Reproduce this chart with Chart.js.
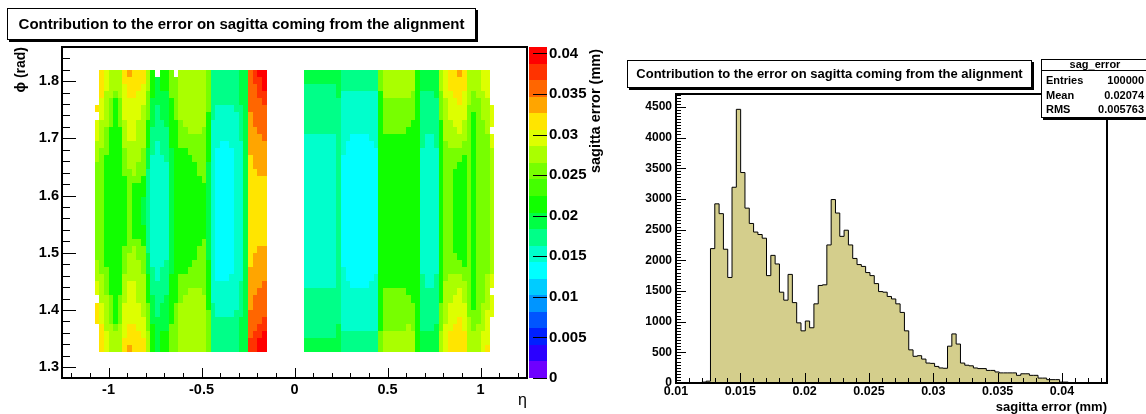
<!DOCTYPE html>
<html><head><meta charset="utf-8">
<script src="https://cdn.jsdelivr.net/npm/chart.js@4.4.1/dist/chart.umd.min.js"></script>
<style>
html,body{margin:0;padding:0;background:#fff;}
body{width:1146px;height:414px;position:relative;overflow:hidden;}
canvas{position:absolute;top:0;}
#heat{left:0;width:620px;height:414px;}
#hist{left:620px;width:526px;height:414px;}
</style></head><body>
<canvas id="heat" width="620" height="414"></canvas>
<canvas id="hist" width="526" height="414"></canvas>
<script>
const FONT = "'Liberation Sans', Arial, Helvetica, sans-serif";

// ---------------- Left pad : 2D map ----------------
const titleText = "Contribution to the error on sagitta coming from the alignment";
const etaAxisTitle = "\u03B7";
const phiAxisTitle = "\u03D5 (rad)";
const zAxisTitle = "sagitta error (mm)";
const etaTickValues = [-1, -0.5, 0, 0.5, 1];
const etaTickLabels = ["-1", "-0.5", "0", "0.5", "1"];
const phiTickValues = [1.3, 1.4, 1.5, 1.6, 1.7, 1.8];
const phiTickLabels = ["1.3", "1.4", "1.5", "1.6", "1.7", "1.8"];
const zTickValues = [0, 0.005, 0.01, 0.015, 0.02, 0.025, 0.03, 0.035, 0.04];
const zTickLabels = ["0", "0.005", "0.01", "0.015", "0.02", "0.025", "0.03", "0.035", "0.04"];
const etaRange = [-1.25, 1.25];
const phiRange = [1.2812, 1.8596];
const zRange = [0, 0.0408];
const zLevels = 20;
const paletteColors = ["#6e00ff","#2a00ff","#0020ff","#0055ff","#0095ff","#00ccff","#00ffff","#00ffcc","#00ff88","#00ff44",
                       "#11ff00","#44ff00","#77ff00","#aaff00","#ddff00","#ffe500","#ffa500","#ff6600","#ff3300","#ff0000"];
const etaBinWidth = 0.025;
const phiBinRange = [1.327, 1.819];
const phiBinCount = 40;
const leftBlockEtaStart = -1.075;
const rightBlockEtaStart = 0.05;
// cell code -> colour level (level k covers [k, k+1) * zRange[1]/zLevels)
const levelOfCode = {"7":6,"8":7,"9":8,"A":9,"B":10,"C":12,"D":13,"E":14,"F":15,"G":16,"H":17,"I":18,"J":19};
// each column: run-length list of cell codes from top row (phi high) to bottom row
const leftBlockColumns = [
 ".*5 F . E*3 D*3 C*14 D*3 E*2 . F*3 .*4",
 "F*4 E*3 D*4 C*18 D*4 E*3 F*4",
 "E*3 D*5 C*4 B*16 C*4 D*5 E*3",
 "D*4 C*4 B*24 C*4 D*4",
 "D*3 C B*32 C D*3",
 "D*4 C*4 B*24 C*4 D*4",
 "F*2 E*5 D*4 C*4 B*10 C*4 D*4 E*5 F*2",
 "G F*3 E*6 D*4 C*12 D*4 E*6 F*3 G",
 "F*4 E*6 D*5 C B*8 C D*5 E*6 F*4",
 "F*3 E*4 D*6 C*3 B*8 C*3 D*6 E*4 F*3",
 "F*2 E*3 D*6 C*4 B*3 A*4 B*3 C*4 D*6 E*3 F*2",
 "D*3 C*4 B*4 A*3 9*12 A*3 B*4 C*4 D*3",
 "B*4 A*4 9*4 8*16 9*4 A*4 B*4",
 ". A*4 9*5 8*20 9*5 A*5",
 "B*3 A*4 9*5 8*16 9*5 A*4 B*3",
 "B*3 A*5 9*5 8*14 9*5 A*5 B*3",
 "C*4 B*7 A*18 B*7 C*4",
 ". C*6 B*26 C*7",
 "D*7 C*4 B*18 C*4 D*7",
 "D*8 C*3 B*18 C*3 D*8",
 "D*9 C*3 B*16 C*3 D*9",
 "D*9 C*4 B*14 C*4 D*9",
 "D*9 C*6 B*10 C*6 D*9",
 "D*8 C*8 B*8 C*8 D*8",
 "C*6 B*7 A*14 B*7 C*6",
 "9*7 8*26 9*7",
 "9*5 8*6 7*19 8*5 9*5",
 "9*5 8*5 7*20 8*5 9*5",
 "9*5 8*5 7*20 8*5 9*5",
 "9*5 8*6 7*18 8*6 9*5",
 "9*6 8*28 9*6",
 "A*5 9*5 8*20 9*5 A*5",
 "A*40",
 "H*6 G*6 F*16 G*6 H*4 I*2",
 "I*2 H*6 G*6 F*12 G*6 H*5 I*3",
 "J I*3 H*5 G*6 F*10 G*6 H*5 I*2 J*2",
 "J*3 I*2 H*5 G*5 F*10 G*5 H*5 I*2 J*3"
];
const rightBlockColumns = [
 "A*2 9*7 8*22 9*7 A*2",
 "A*2 9*7 8*22 9*7 A*2",
 "A*2 9*7 8*22 9*7 A*2",
 "A*2 9*7 8*22 9*7 A*2",
 "A*2 9*7 8*22 9*7 A*2",
 "A*2 9*7 8*22 9*7 A*2",
 "A*2 9*7 8*22 9*7 A*2",
 "A*4 9*32 A*4",
 "9*3 8*9 7*16 8*9 9*3",
 "9*3 8*7 7*20 8*7 9*3",
 "9*3 8*6 7*22 8*6 9*3",
 "9*3 8*6 7*22 8*6 9*3",
 "9*3 8*6 7*22 8*6 9*3",
 "9*3 8*6 7*22 8*6 9*3",
 "9*3 8*7 7*20 8*7 9*3",
 "9*3 8*8 7*18 8*8 9*3",
 "C*3 B*34 C*3",
 "D*4 C*5 B*22 C*6 D*3",
 "D*4 C*5 B*22 C*6 D*3",
 "D*4 C*5 B*22 C*6 D*3",
 "D*4 C*5 B*22 C*6 D*3",
 "D*4 C*5 B*22 C*6 D*3",
 "D*4 C*4 B*24 C*4 D*4",
 "D*3 C*4 B*26 C*4 D*3",
 "B*40",
 "A*3 9*8 8*18 9*8 A*3",
 "A*3 9*6 8*22 9*6 A*3",
 "A*3 9*6 8*22 9*6 A*3",
 "A*4 9*7 8*18 9*7 A*4",
 "D*3 C*4 B*26 C*4 D*3",
 "E*4 D*6 C*20 D*6 E*4",
 "F*3 E*4 D*4 C*18 D*4 E*4 F*3",
 "F*4 E*4 D*3 C*3 B*12 C*3 D*3 E*4 F*4",
 "G F*4 E*4 D*2 C*2 B*14 C*2 D*2 E*4 F*5",
 "F*3 E*4 D*3 C*2 B*16 C*2 D*3 E*4 F*3",
 "D*5 C*30 D*5",
 "D*3 C*3 B*28 C*3 D*3",
 "D*4 C*32 D*4",
 "E*3 D*4 C*26 D*4 E*3",
 "E*4 D*5 C*20 D*5 E*5 F",
 ".*5 E*3 . E*2 D*18 E*2 . E*3 .*5"
];

// ---------------- Right pad : histogram ----------------
const histName = "sag_error";
const statsLabels = ["Entries", "Mean", "RMS"];
const statsValues = ["100000", "0.02074", "0.005763"];
const histRange = [0.01, 0.0435];
const histCounts = [
 0,0,0,0,0,0,15,30,2190,2920,
 2760,2180,1720,3190,4460,3430,2850,2600,2460,2420,
 2360,1750,2080,1940,1480,1350,1770,1310,980,850,
 1010,900,1290,1590,1600,2250,2990,2770,2390,2490,
 2250,2030,1930,1900,1800,1750,1620,1490,1480,1410,
 1370,1290,1150,850,540,435,445,390,325,320,
 270,245,240,600,800,635,325,290,280,245,
 235,235,205,205,180,165,165,165,165,125,
 150,150,125,125,80,80,55,55,55,15,
 15,0,0,0,0,0,0,0,0,0
];
const histXTickValues = [0.01, 0.015, 0.02, 0.025, 0.03, 0.035, 0.04];
const histXTickLabels = ["0.01", "0.015", "0.02", "0.025", "0.03", "0.035", "0.04"];
const histYTickValues = [0, 500, 1000, 1500, 2000, 2500, 3000, 3500, 4000, 4500];
const histYTickLabels = ["0", "500", "1000", "1500", "2000", "2500", "3000", "3500", "4000", "4500"];
const histYMax = 4710;
const histXTitle = "sagitta error (mm)";
const histFill = "#d4ce8c";

// ---------------- build data ----------------
function decodeColumn(str, n) {
  const out = [];
  str.trim().split(/\s+/).forEach(tok => {
    const parts = tok.split('*');
    const cnt = parts[1] ? parseInt(parts[1], 10) : 1;
    for (let i = 0; i < cnt; i++) out.push(parts[0]);
  });
  while (out.length < n) out.push('.');
  return out.slice(0, n);
}
const zStep = zRange[1] / zLevels;
const phiBin = (phiBinRange[1] - phiBinRange[0]) / phiBinCount;
const cellPoints = [];
function addBlock(cols, eta0) {
  cols.forEach((s, c) => {
    decodeColumn(s, phiBinCount).forEach((code, r) => {
      if (!(code in levelOfCode)) return;
      const etaLo = eta0 + c * etaBinWidth;
      const phiHi = phiBinRange[1] - r * phiBin;
      cellPoints.push({x: etaLo + etaBinWidth / 2, y: phiHi - phiBin / 2, v: (levelOfCode[code] + 0.5) * zStep});
    });
  });
}
addBlock(leftBlockColumns, leftBlockEtaStart);
addBlock(rightBlockColumns, rightBlockEtaStart);
function colorFor(v) {
  const k = Math.max(0, Math.min(zLevels - 1, Math.floor(v / zStep)));
  return paletteColors[k];
}
const histBinW = (histRange[1] - histRange[0]) / histCounts.length;
const histPoints = histCounts.map((c, k) => ({x: histRange[0] + k * histBinW, y: c}));
histPoints.push({x: histRange[1], y: histCounts[histCounts.length - 1]});

// ---------------- plugins ----------------
function multiples(min, max, step) {
  const out = [];
  const eps = step * 1e-6;
  for (let i = Math.ceil((min - eps) / step); i * step <= max + eps; i++) out.push(i * step);
  return out;
}
const heatCells = {
  id: 'heatCells',
  beforeDatasetsDraw(chart) {
    const {ctx, scales: {x, y}} = chart;
    ctx.save();
    chart.data.datasets[0].data.forEach(p => {
      const x0 = Math.round(x.getPixelForValue(p.x - etaBinWidth / 2));
      const x1 = Math.round(x.getPixelForValue(p.x + etaBinWidth / 2));
      const y0 = Math.round(y.getPixelForValue(p.y + phiBin / 2));
      const y1 = Math.round(y.getPixelForValue(p.y - phiBin / 2));
      ctx.fillStyle = colorFor(p.v);
      ctx.fillRect(x0, y0, x1 - x0, y1 - y0);
    });
    ctx.restore();
  }
};
const rootFrame = {
  id: 'rootFrame',
  afterDatasetsDraw(chart, args, o) {
    const {ctx, chartArea: a, scales: {x, y}} = chart;
    ctx.save();
    ctx.strokeStyle = '#000';
    ctx.lineWidth = 1;
    ctx.beginPath();
    const xt = (vals, len) => vals.forEach(v => {
      const px = Math.round(x.getPixelForValue(v)) + 0.5;
      if (px < a.left || px > a.right) return;
      ctx.moveTo(px, a.bottom); ctx.lineTo(px, a.bottom - len);
    });
    const yt = (vals, len) => vals.forEach(v => {
      const py = Math.round(y.getPixelForValue(v)) + 0.5;
      if (py < a.top || py > a.bottom) return;
      ctx.moveTo(a.left, py); ctx.lineTo(a.left + len, py);
    });
    xt(multiples(x.min, x.max, o.xMinor), o.xMinorLen);
    xt(o.xMajor, o.xMajorLen);
    yt(multiples(y.min, y.max, o.yMinor), o.yMinorLen);
    yt(o.yMajor, o.yMajorLen);
    ctx.stroke();
    ctx.lineWidth = 2;
    ctx.strokeRect(a.left, a.top, a.right - a.left, a.bottom - a.top);
    ctx.restore();
  }
};
function drawPave(ctx, x, y, w, h, sh) {
  ctx.save();
  ctx.fillStyle = '#000';
  ctx.fillRect(x + sh, y + sh, w, h);
  ctx.fillStyle = '#fff';
  ctx.fillRect(x, y, w, h);
  ctx.strokeStyle = '#000';
  ctx.lineWidth = 1;
  ctx.strokeRect(x + 0.5, y + 0.5, w - 1, h - 1);
  ctx.restore();
}
function vText(ctx, txt, x, yTop, font) {
  ctx.save();
  ctx.translate(x, yTop);
  ctx.rotate(-Math.PI / 2);
  ctx.font = font;
  ctx.textAlign = 'right';
  ctx.textBaseline = 'alphabetic';
  ctx.fillStyle = '#000';
  ctx.fillText(txt, 0, 0);
  ctx.restore();
}
const heatDecor = {
  id: 'heatDecor',
  afterDraw(chart) {
    const {ctx, chartArea: a, scales: {z}} = chart;
    // palette
    const bx = a.right + 2, bw = 18;
    for (let k = 0; k < zLevels; k++) {
      const yT = Math.round(z.getPixelForValue((k + 1) * zStep));
      const yB = Math.round(z.getPixelForValue(k * zStep));
      ctx.fillStyle = paletteColors[k];
      ctx.fillRect(bx, yT, bw, yB - yT);
    }
    ctx.save();
    ctx.strokeStyle = '#000';
    ctx.lineWidth = 1;
    ctx.beginPath();
    zTickValues.forEach(v => {
      const py = Math.round(z.getPixelForValue(v)) + 0.5;
      ctx.moveTo(bx + bw - 14, py); ctx.lineTo(bx + bw, py);
    });
    ctx.stroke();
    ctx.restore();
    // title pave
    drawPave(ctx, 7, 8, 469, 32, 2);
    ctx.save();
    ctx.fillStyle = '#000';
    ctx.font = 'bold 15px ' + FONT;
    ctx.textAlign = 'center';
    ctx.textBaseline = 'middle';
    ctx.fillText(titleText, 7 + 469 / 2, 25);
    ctx.font = '16px ' + FONT;
    ctx.textAlign = 'right';
    ctx.textBaseline = 'alphabetic';
    ctx.fillText(etaAxisTitle, a.right, 405);
    ctx.restore();
    vText(ctx, phiAxisTitle, 25, a.top, 'bold 14px ' + FONT);
    vText(ctx, zAxisTitle, 600, a.top + 2, 'bold 14.5px ' + FONT);
  }
};
const histDecor = {
  id: 'histDecor',
  afterDraw(chart) {
    const {ctx, chartArea: a} = chart;
    drawPave(ctx, 7, 60, 405, 28, 2);
    ctx.save();
    ctx.fillStyle = '#000';
    ctx.font = 'bold 13px ' + FONT;
    ctx.textAlign = 'center';
    ctx.textBaseline = 'middle';
    ctx.fillText(titleText, 7 + 405 / 2, 74.5);
    ctx.textAlign = 'right';
    ctx.textBaseline = 'alphabetic';
    ctx.fillText(histXTitle, a.right, 411);
    ctx.restore();
    // stats box
    const sx = 421, sy = 59, sw = 110, sh = 59;
    drawPave(ctx, sx, sy, sw, sh, 2);
    ctx.save();
    ctx.strokeStyle = '#000';
    ctx.lineWidth = 1;
    ctx.beginPath();
    ctx.moveTo(sx, sy + 11.5); ctx.lineTo(sx + sw, sy + 11.5);
    ctx.stroke();
    ctx.fillStyle = '#000';
    ctx.font = 'bold 11px ' + FONT;
    ctx.textBaseline = 'middle';
    ctx.textAlign = 'center';
    ctx.fillText(histName, sx + 54, sy + 6);
    statsLabels.forEach((lab, i) => {
      const yy = sy + 22 + i * 14.5;
      ctx.textAlign = 'left';
      ctx.fillText(lab, sx + 5, yy);
      ctx.textAlign = 'right';
      ctx.fillText(statsValues[i], sx + 103, yy);
    });
    ctx.restore();
  }
};

// ---------------- charts ----------------
function tickFont(size) { return {family: FONT, size: size, weight: 'bold'}; }
function axisBase(vals, labels, size, pad) {
  return {
    grid: {display: false, drawTicks: false},
    border: {display: false},
    afterBuildTicks: s => { s.ticks = vals.map(v => ({value: v})); },
    ticks: {callback: (v, i) => labels[i], font: tickFont(size), color: '#000', padding: pad,
            autoSkip: false, maxRotation: 0, minRotation: 0}
  };
}

new Chart(document.getElementById('heat'), {
  type: 'scatter',
  data: {datasets: [{data: cellPoints, xAxisID: 'x', yAxisID: 'y', pointRadius: 0, pointHoverRadius: 0}]},
  options: {
    responsive: false, animation: false, events: [], devicePixelRatio: 1,
    layout: {padding: {top: 47, left: 0, right: 0, bottom: 0}},
    plugins: {
      legend: {display: false}, tooltip: {enabled: false},
      rootFrame: {xMajor: etaTickValues, xMinor: 0.1, xMajorLen: 10, xMinorLen: 5,
                  yMajor: phiTickValues, yMinor: 0.02, yMajorLen: 14, yMinorLen: 8}
    },
    scales: {
      x: Object.assign(axisBase(etaTickValues, etaTickLabels, 14.5, 3),
        {type: 'linear', position: 'bottom', min: etaRange[0], max: etaRange[1], afterFit: s => { s.height = 36; }}),
      y: Object.assign(axisBase(phiTickValues, phiTickLabels, 14.5, 3),
        {type: 'linear', position: 'left', min: phiRange[0], max: phiRange[1], afterFit: s => { s.width = 62; }}),
      z: Object.assign(axisBase(zTickValues, zTickLabels, 15, 22),
        {type: 'linear', position: 'right', min: zRange[0], max: zRange[1], afterFit: s => { s.width = 93; }})
    }
  },
  plugins: [heatCells, rootFrame, heatDecor]
});

new Chart(document.getElementById('hist'), {
  type: 'line',
  data: {datasets: [{data: histPoints, stepped: 'before', fill: 'origin', backgroundColor: histFill,
                     borderColor: '#000', borderWidth: 1, pointRadius: 0, pointHoverRadius: 0, tension: 0}]},
  options: {
    responsive: false, animation: false, events: [], devicePixelRatio: 1,
    layout: {padding: {top: 94, left: 0, right: 39, bottom: 0}},
    plugins: {
      legend: {display: false}, tooltip: {enabled: false},
      rootFrame: {xMajor: histXTickValues, xMinor: 0.001, xMajorLen: 10, xMinorLen: 5,
                  yMajor: histYTickValues, yMinor: 50, yMajorLen: 10, yMinorLen: 5}
    },
    scales: {
      x: Object.assign(axisBase(histXTickValues, histXTickLabels, 12.5, 1),
        {type: 'linear', position: 'bottom', min: histRange[0], max: histRange[1], afterFit: s => { s.height = 31; }}),
      y: Object.assign(axisBase(histYTickValues, histYTickLabels, 12, 4),
        {type: 'linear', position: 'left', min: 0, max: histYMax, afterFit: s => { s.width = 56; }})
    }
  },
  plugins: [rootFrame, histDecor]
});
</script></body></html>
